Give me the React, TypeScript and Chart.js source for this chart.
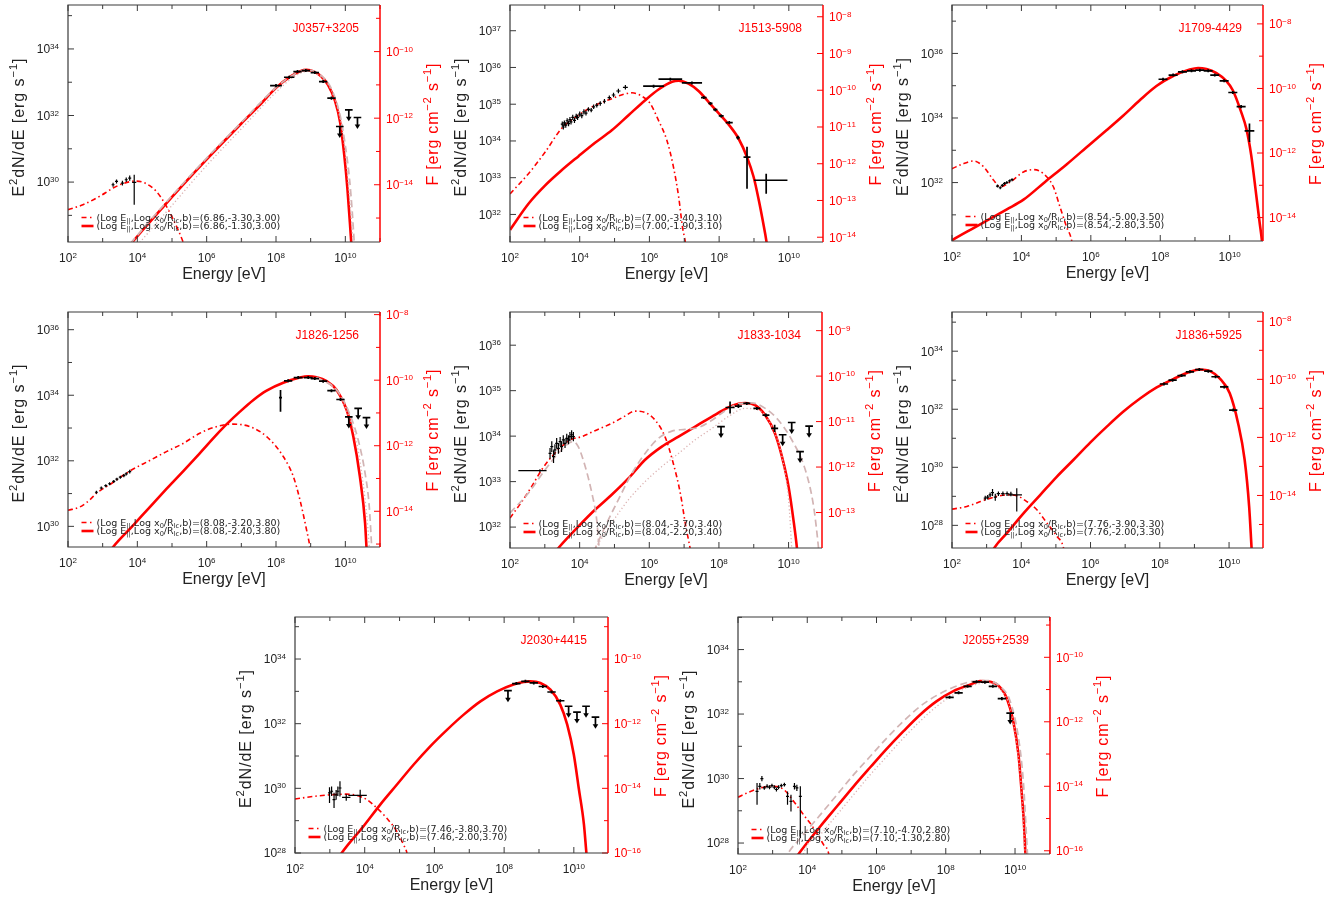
import React, { useEffect, useRef } from 'react';
import { Chart, registerables } from 'chart.js';

Chart.register(...registerables);

type Pt = [number, number];
type Dp = number[];

// ---------------- DATA (log10 E [eV], log10 E^2dN/dE [erg/s]) ----------------
// J0357+3205
const P1_IC: Pt[] = [[3.68,27.97],[3.86,28.20],[4.30,28.73],[4.70,29.20],[5.27,29.86],[6.00,30.68],[7.00,31.76],[7.50,32.28],[8.00,32.83],[8.40,33.16],[8.70,33.33],[8.88,33.37],[9.10,33.32],[9.30,33.18],[9.50,32.92],[9.70,32.45],[9.85,31.80],[9.97,30.80],[10.06,29.80],[10.13,28.80],[10.19,27.90]];
const P1_SYN: Pt[] = [[2.00,29.17],[2.43,29.32],[2.91,29.57],[3.30,29.82],[3.60,29.96],[3.95,30.03],[4.20,29.98],[4.55,29.72],[4.84,29.27],[5.13,28.67],[5.32,28.20],[5.40,27.95]];
const P1_GDASH: Pt[] = [[3.80,28.15],[4.30,28.76],[5.27,29.90],[6.00,30.72],[7.00,31.79],[8.00,32.84],[8.50,33.22],[8.90,33.37],[9.30,33.20],[9.60,32.80],[9.85,32.00],[10.00,31.10],[10.12,30.10],[10.20,29.10],[10.25,28.30],[10.28,27.90]];
const P1_GDOT: Pt[] = [[4.00,28.10],[5.00,29.30],[6.00,30.50],[7.00,31.60],[8.00,32.70],[8.50,33.15],[8.90,33.33],[9.30,33.15],[9.60,32.75],[9.85,31.90],[10.00,30.90],[10.10,29.80],[10.18,28.80],[10.24,27.90]];
const P1_XRAY: Dp[] = [[3.30,29.92,0.03,0.06],[3.40,30.02,0.03,0.06],[3.57,29.97,0.03,0.07],[3.68,30.07,0.03,0.07],[3.78,30.12,0.03,0.08],[3.91,29.99,0.06,0.06,0.67,0.23]];
const P1_GAMMA: Dp[] = [[8.00,32.90,0.17,0.05],[8.38,33.15,0.15,0.04],[8.62,33.32,0.12,0.03],[8.86,33.35,0.12,0.03],[9.12,33.29,0.12,0.03],[9.36,33.02,0.12,0.04],[9.60,32.52,0.12,0.05]];
const P1_UL: Dp[] = [[9.84,31.67,0.11],[10.10,32.17,0.11],[10.35,31.94,0.11]];

// J1513-5908
const P2_IC: Pt[] = [[2.00,31.58],[2.53,32.29],[3.01,32.79],[3.48,33.20],[3.96,33.58],[4.44,33.95],[4.92,34.29],[5.40,34.70],[5.88,35.11],[6.26,35.40],[6.65,35.61],[6.84,35.64],[7.12,35.56],[7.41,35.36],[7.70,35.06],[7.99,34.75],[8.27,34.45],[8.56,34.06],[8.80,33.56],[8.99,33.02],[9.14,32.38],[9.25,31.84],[9.36,31.25],[9.40,30.93]];
const P2_SYN: Pt[] = [[2.00,32.56],[2.53,33.11],[3.01,33.70],[3.48,34.34],[3.96,34.70],[4.44,34.97],[4.92,35.15],[5.26,35.27],[5.50,35.31],[5.78,35.22],[6.02,35.02],[6.26,34.56],[6.50,34.02],[6.69,33.29],[6.84,32.47],[6.95,31.65],[7.03,31.25],[7.08,30.84]];
const P2_XRAY: Dp[] = [[3.50,34.46,0.02,0.07],[3.53,34.38,0.02,0.07],[3.56,34.49,0.02,0.07],[3.60,34.43,0.02,0.07],[3.64,34.55,0.02,0.07],[3.68,34.47,0.02,0.07],[3.72,34.58,0.02,0.07],[3.75,34.52,0.02,0.07],[3.80,34.64,0.02,0.07],[3.85,34.56,0.02,0.07],[3.90,34.67,0.02,0.07],[3.94,34.64,0.02,0.07],[4.00,34.73,0.02,0.07],[4.06,34.69,0.02,0.07],[4.12,34.79,0.02,0.07],[4.18,34.76,0.02,0.07],[4.25,34.86,0.03,0.06],[4.33,34.84,0.03,0.06],[4.40,34.93,0.03,0.06],[4.49,34.97,0.03,0.06],[4.59,35.02,0.04,0.06],[4.71,35.08,0.04,0.06],[4.85,35.18,0.05,0.06],[4.97,35.25,0.05,0.06],[5.11,35.36,0.06,0.06],[5.31,35.46,0.07,0.06]];
const P2_GAMMA: Dp[] = [[6.12,35.49,0.30,0.04],[6.60,35.68,0.34,0.04],[7.22,35.58,0.29,0.04],[7.56,35.18,0.08,0.03],[7.75,35.02,0.06,0.03],[7.89,34.85,0.06,0.03],[8.06,34.68,0.07,0.03],[8.29,34.50,0.10,0.03],[8.54,34.09,0.05,0.05],[8.80,33.56,0.10,0.10,0.86,0.28],[9.35,32.93,0.35,0.61,0.37,0.18]];
const P2_UL: Dp[] = [];

// J1709-4429
const P3_IC: Pt[] = [[1.86,30.11],[2.00,30.21],[2.62,30.59],[3.10,30.88],[3.58,31.17],[4.06,31.47],[4.68,32.02],[5.30,32.56],[5.98,33.19],[6.45,33.62],[6.93,34.07],[7.41,34.55],[7.89,34.99],[8.37,35.30],[8.85,35.50],[9.09,35.55],[9.33,35.52],[9.61,35.40],[9.90,35.15],[10.09,34.86],[10.33,34.19],[10.48,33.67],[10.62,32.85],[10.76,31.66],[10.86,30.78],[10.93,30.19],[10.96,29.80]];
const P3_SYN: Pt[] = [[2.00,32.43],[2.34,32.59],[2.62,32.67],[2.91,32.49],[3.20,32.07],[3.39,31.87],[3.68,32.02],[4.06,32.33],[4.35,32.40],[4.63,32.28],[4.92,31.87],[5.11,31.25],[5.30,30.63],[5.45,30.19],[5.50,29.80]];
const P3_XRAY: Dp[] = [[3.31,31.89,0.03,0.03],[3.39,31.84,0.03,0.03],[3.45,31.91,0.03,0.03],[3.51,31.97,0.03,0.03],[3.58,32.00,0.03,0.03],[3.66,32.05,0.04,0.03],[3.73,32.09,0.04,0.03]];
const P3_GAMMA: Dp[] = [[8.08,35.20,0.13,0.02],[8.37,35.33,0.13,0.02],[8.64,35.43,0.13,0.02],[8.90,35.46,0.13,0.02],[9.14,35.48,0.13,0.02],[9.38,35.46,0.13,0.02],[9.57,35.33,0.13,0.03],[9.84,35.15,0.13,0.03],[10.09,34.79,0.13,0.04],[10.33,34.35,0.13,0.05],[10.57,33.60,0.14,0.14,0.34,0.23]];
const P3_UL: Dp[] = [];

// J1826-1256
const P4_IC: Pt[] = [[3.11,29.09],[3.30,29.37],[3.88,30.03],[4.36,30.59],[4.84,31.14],[5.32,31.68],[5.80,32.23],[6.28,32.79],[6.57,33.11],[6.96,33.50],[7.34,33.85],[7.73,34.14],[8.21,34.38],[8.69,34.54],[8.93,34.58],[9.17,34.55],[9.46,34.43],[9.75,34.16],[10.04,33.55],[10.23,32.74],[10.42,31.52],[10.57,30.10],[10.61,29.37],[10.64,28.99]];
const P4_SYN: Pt[] = [[2.00,30.49],[2.34,30.59],[2.63,30.81],[2.82,31.01],[3.20,31.27],[3.80,31.70],[4.36,32.01],[4.84,32.28],[5.32,32.53],[5.80,32.84],[6.28,33.04],[6.76,33.12],[7.25,33.04],[7.73,32.74],[8.21,32.13],[8.50,31.52],[8.69,30.81],[8.88,29.90],[8.98,29.37],[9.03,28.99]];
const P4_GDASH: Pt[] = [[9.17,34.55],[9.75,34.16],[10.08,33.55],[10.37,32.64],[10.57,31.62],[10.69,30.61],[10.76,29.37],[10.78,28.99]];
const P4_GDOT: Pt[] = [[9.17,34.55],[9.75,34.14],[10.04,33.53],[10.31,32.64],[10.50,31.42],[10.61,30.41],[10.69,29.37],[10.71,28.99]];
const P4_XRAY: Dp[] = [[2.82,31.04,0.03,0.03],[2.96,31.17,0.03,0.04],[3.09,31.24,0.03,0.04],[3.20,31.30,0.03,0.04],[3.32,31.37,0.03,0.04],[3.41,31.44,0.03,0.04],[3.51,31.50,0.03,0.04],[3.61,31.55,0.03,0.05],[3.68,31.60,0.03,0.05],[3.78,31.67,0.03,0.06]];
const P4_GAMMA: Dp[] = [[8.13,33.93,0.04,0.04,0.43,0.23],[8.35,34.44,0.12,0.03],[8.64,34.54,0.13,0.02],[8.93,34.54,0.13,0.02],[9.12,34.51,0.12,0.02],[9.36,34.43,0.12,0.03],[9.60,34.14,0.12,0.03],[9.86,33.87,0.12,0.04]];
const P4_UL: Dp[] = [[10.10,33.34,0.11],[10.37,33.60,0.11],[10.61,33.32,0.11]];

// J1833-1034
const P5_IC: Pt[] = [[3.20,31.36],[3.39,31.54],[3.96,32.01],[4.44,32.38],[4.92,32.71],[5.40,33.07],[5.88,33.48],[6.36,33.77],[6.84,33.99],[7.32,34.21],[7.80,34.43],[8.27,34.63],[8.56,34.71],[8.75,34.73],[9.04,34.68],[9.33,34.46],[9.61,34.06],[9.81,33.55],[10.00,32.89],[10.14,32.16],[10.24,31.54],[10.27,31.28]];
const P5_SYN: Pt[] = [[2.00,32.20],[2.34,32.56],[2.62,32.89],[2.91,33.26],[3.20,33.55],[3.48,33.77],[3.77,33.93],[4.06,33.99],[4.44,34.12],[4.92,34.28],[5.30,34.44],[5.59,34.55],[5.88,34.52],[6.17,34.35],[6.45,33.99],[6.69,33.40],[6.89,32.75],[7.05,32.01],[7.17,31.54],[7.22,31.28]];
const P5_GDASH_A: Pt[] = [[2.00,32.31],[2.53,32.75],[3.01,33.26],[3.48,33.70],[3.82,33.88],[3.96,33.77],[4.16,33.33],[4.35,32.75],[4.49,32.16],[4.56,31.54],[4.59,31.28]];
const P5_GDASH_B: Pt[] = [[4.40,31.45],[4.73,32.01],[5.11,32.60],[5.50,33.18],[5.88,33.62],[6.26,33.95],[6.65,34.11],[7.03,34.15],[7.41,34.19],[7.80,34.35],[8.18,34.56],[8.56,34.71],[8.94,34.73],[9.33,34.61],[9.71,34.35],[10.09,33.92],[10.48,33.26],[10.72,32.45],[10.86,31.54],[10.89,31.28]];
const P5_GDOT: Pt[] = [[4.40,31.48],[4.92,32.09],[5.40,32.60],[5.88,33.00],[6.36,33.33],[6.84,33.62],[7.32,33.92],[7.80,34.17],[8.27,34.43],[8.75,34.61],[9.14,34.57],[9.52,34.21],[9.81,33.55],[10.00,32.60],[10.09,31.54],[10.11,31.28]];
const P5_XRAY: Dp[] = [[2.86,33.24,0.62,0.19,0.03,0.03],[3.15,33.62,0.02,0.12],[3.20,33.77,0.02,0.12],[3.25,33.55,0.02,0.14],[3.29,33.70,0.02,0.12],[3.34,33.84,0.02,0.12],[3.39,33.73,0.02,0.12],[3.44,33.88,0.02,0.10],[3.48,33.77,0.02,0.12],[3.53,33.92,0.02,0.10],[3.58,33.84,0.02,0.10],[3.63,33.95,0.02,0.10],[3.68,33.92,0.02,0.10],[3.72,33.99,0.02,0.10],[3.77,34.03,0.02,0.10],[3.82,33.99,0.02,0.10]];
const P5_GAMMA: Dp[] = [[8.32,34.63,0.13,0.13],[8.56,34.66,0.10,0.04],[8.80,34.72,0.10,0.03],[9.09,34.61,0.10,0.03],[9.35,34.46,0.10,0.04],[9.60,34.17,0.10,0.08]];
const P5_UL: Dp[] = [[8.06,34.21,0.11],[9.83,34.03,0.11],[10.09,34.30,0.11],[10.33,33.66,0.11],[10.59,34.22,0.11]];

// J1836+5925
const P6_IC: Pt[] = [[3.10,26.93],[3.22,27.22],[3.59,27.74],[4.07,28.42],[4.55,29.05],[5.03,29.68],[5.51,30.26],[5.99,30.85],[6.47,31.40],[6.95,31.92],[7.43,32.37],[7.91,32.75],[8.39,33.04],[8.87,33.29],[9.16,33.37],[9.44,33.32],[9.73,33.06],[10.02,32.55],[10.26,31.52],[10.45,30.26],[10.58,28.65],[10.65,27.22],[10.67,26.82]];
const P6_SYN: Pt[] = [[2.00,28.56],[2.43,28.65],[2.82,28.82],[3.20,28.97],[3.59,29.05],[3.87,29.02],[4.16,28.82],[4.45,28.54],[4.74,28.08],[5.03,27.62],[5.22,27.22],[5.27,26.82]];
const P6_XRAY: Dp[] = [[2.96,28.94,0.03,0.08],[3.03,28.97,0.03,0.08],[3.10,29.05,0.03,0.08],[3.17,29.13,0.03,0.12],[3.25,28.97,0.03,0.12],[3.34,29.09,0.05,0.08],[3.47,29.09,0.05,0.08],[3.59,29.09,0.05,0.08],[3.70,29.08,0.05,0.08],[3.87,29.05,0.24,0.15,0.57,0.23]];
const P6_GAMMA: Dp[] = [[8.12,32.87,0.12,0.03],[8.37,33.00,0.12,0.02],[8.63,33.16,0.12,0.02],[8.87,33.29,0.12,0.02],[9.14,33.37,0.12,0.02],[9.40,33.31,0.12,0.02],[9.61,33.12,0.12,0.03],[9.86,32.77,0.12,0.03],[10.12,31.97,0.12,0.05]];
const P6_UL: Dp[] = [];

// J2030+4415
const P7_IC: Pt[] = [[3.20,27.74],[3.34,28.00],[3.96,28.82],[4.44,29.49],[4.92,30.11],[5.40,30.73],[5.88,31.30],[6.36,31.81],[6.84,32.28],[7.32,32.69],[7.80,33.00],[8.27,33.21],[8.56,33.29],[8.75,33.31],[9.04,33.26],[9.33,33.05],[9.61,32.59],[9.81,31.97],[10.00,31.04],[10.14,30.01],[10.29,28.88],[10.36,28.00],[10.39,27.64]];
const P7_SYN: Pt[] = [[2.00,29.67],[2.53,29.75],[3.01,29.80],[3.48,29.82],[3.77,29.78],[4.06,29.65],[4.35,29.39],[4.63,29.08],[4.92,28.67],[5.11,28.26],[5.21,28.00],[5.26,27.64]];
const P7_XRAY: Dp[] = [[2.99,29.86,0.03,0.03,0.31,0.17],[3.05,29.91,0.03,0.15],[3.12,29.65,0.03,0.03,0.26,0.21],[3.18,29.80,0.03,0.15],[3.23,29.91,0.03,0.15],[3.29,30.01,0.03,0.03,0.26,0.21],[3.47,29.72,0.12,0.10],[3.87,29.78,0.34,0.19,0.23,0.18]];
const P7_GAMMA: Dp[] = [[8.35,33.24,0.12,0.03],[8.61,33.31,0.12,0.02],[8.85,33.26,0.12,0.02],[9.11,33.15,0.12,0.02],[9.36,32.98,0.12,0.03],[9.61,32.71,0.12,0.04]];
const P7_UL: Dp[] = [[8.11,33.02,0.11],[9.85,32.54,0.11],[10.09,32.36,0.11],[10.35,32.54,0.11],[10.62,32.20,0.11]];

// J2055+2539
const P8_IC: Pt[] = [[3.61,27.43],[3.75,27.66],[4.38,28.52],[4.86,29.14],[5.34,29.76],[5.82,30.35],[6.30,30.93],[6.78,31.47],[7.26,31.98],[7.74,32.40],[8.22,32.71],[8.70,32.91],[8.99,33.02],[9.28,33.00],[9.57,32.83],[9.76,32.50],[9.95,31.78],[10.10,30.74],[10.19,29.60],[10.26,28.57],[10.30,27.66],[10.32,27.33]];
const P8_SYN: Pt[] = [[2.00,29.42],[2.36,29.60],[2.74,29.73],[3.03,29.76],[3.32,29.66],[3.61,29.29],[3.89,28.88],[4.18,28.47],[4.47,27.95],[4.62,27.66],[4.66,27.33]];
const P8_GDASH: Pt[] = [[3.32,27.43],[3.43,27.66],[3.89,28.26],[4.38,28.88],[4.86,29.50],[5.34,30.12],[5.82,30.69],[6.30,31.26],[6.78,31.78],[7.26,32.24],[7.74,32.58],[8.22,32.83],[8.70,33.00],[9.18,33.04],[9.57,32.86],[9.86,32.40],[10.10,31.26],[10.24,29.91],[10.36,27.66],[10.38,27.33]];
const P8_GDOT: Pt[] = [[3.85,27.43],[3.89,27.66],[4.38,28.26],[4.86,28.88],[5.34,29.50],[5.82,30.12],[6.30,30.69],[6.78,31.26],[7.26,31.78],[7.74,32.24],[8.22,32.60],[8.70,32.86],[9.18,32.97],[9.57,32.76],[9.86,32.19],[10.05,31.05],[10.19,29.60],[10.29,27.66],[10.31,27.33]];
const P8_XRAY: Dp[] = [[2.55,29.60,0.02,0.02,0.41,0.26],[2.63,29.76,0.02,0.10],[2.69,30.00,0.02,0.08],[2.76,29.71,0.02,0.06],[2.84,29.76,0.02,0.06],[2.91,29.73,0.02,0.06],[2.98,29.78,0.02,0.06],[3.05,29.73,0.02,0.06],[3.11,29.66,0.02,0.06],[3.17,29.73,0.02,0.06],[3.25,29.78,0.02,0.06],[3.34,29.81,0.02,0.06],[3.43,29.45,0.02,0.02,0.26,0.15],[3.53,29.29,0.02,0.02,0.31,0.21],[3.63,29.76,0.02,0.10],[3.70,29.71,0.02,0.10],[3.80,29.45,0.02,0.02,1.29,0.31]];
const P8_GAMMA: Dp[] = [[8.11,32.52,0.12,0.04],[8.37,32.66,0.12,0.03],[8.63,32.86,0.12,0.02],[8.89,33.00,0.12,0.02],[9.13,32.99,0.12,0.02],[9.36,32.86,0.12,0.03],[9.62,32.48,0.12,0.05]];
const P8_UL: Dp[] = [[9.86,32.03,0.11]];

const NAMES = ['J0357+3205', 'J1513-5908', 'J1709-4429', 'J1826-1256', 'J1833-1034', 'J1836+5925', 'J2030+4415', 'J2055+2539'];
const SYN_PARAMS = ['(6.86,-3.30,3.00)', '(7.00,-3.40,3.10)', '(8.54,-5.00,3.50)', '(8.08,-3.20,3.80)', '(8.04,-3.70,3.40)', '(7.76,-3.90,3.30)', '(7.46,-3.80,3.70)', '(7.10,-4.70,2.80)'];
const IC_PARAMS = ['(6.86,-1.30,3.00)', '(7.00,-1.90,3.10)', '(8.54,-2.80,3.50)', '(8.08,-2.40,3.80)', '(8.04,-2.20,3.40)', '(7.76,-2.00,3.30)', '(7.46,-2.00,3.70)', '(7.10,-1.30,2.80)'];
// axis ranges (log10): energy, luminosity, and luminosity-to-flux offset for the right axis
const X_RANGES: Pt[] = [[2, 11], [2, 10.98], [2, 10.96], [2, 11], [2, 10.96], [2, 10.98], [2, 10.98], [2, 11.01]];
const Y_RANGES: Pt[] = [[28.2, 35.32], [31.25, 37.7], [30.19, 37.5], [29.37, 36.54], [31.54, 36.73], [27.22, 35.35], [28.0, 35.3], [27.66, 35.01]];
const FLUX_OFFSETS = [43.92, 45.38, 44.915, 44.46, 45.32, 43.03, 44.0, 43.76];
const LEFT_LABEL_STEP = [2, 1, 2, 2, 1, 2, 2, 2];
const RIGHT_LABEL_STEP = [2, 1, 2, 2, 1, 2, 2, 2];

// ---------------- layout ----------------
const BOXES: [number, number, number, number][] = [
  [68, 5, 380, 242], [510, 5, 823, 242], [952, 5, 1263, 241],
  [68, 312, 380, 547], [510, 312, 822, 548], [952, 312, 1263, 548],
  [295, 617, 608, 853], [738, 617, 1050, 854],
];
const PAD = { left: 72, top: 5, right: 64, bottom: 45 };

interface PanelCfg {
  idx: number;
  ic: Pt[]; syn: Pt[]; gdash: Pt[][]; gdot: Pt[][];
  xray: Dp[]; gamma: Dp[]; ul: Dp[];
}
const PANELS: PanelCfg[] = [
  { idx: 0, ic: P1_IC, syn: P1_SYN, gdash: [P1_GDASH], gdot: [P1_GDOT], xray: P1_XRAY, gamma: P1_GAMMA, ul: P1_UL },
  { idx: 1, ic: P2_IC, syn: P2_SYN, gdash: [], gdot: [], xray: P2_XRAY, gamma: P2_GAMMA, ul: P2_UL },
  { idx: 2, ic: P3_IC, syn: P3_SYN, gdash: [], gdot: [], xray: P3_XRAY, gamma: P3_GAMMA, ul: P3_UL },
  { idx: 3, ic: P4_IC, syn: P4_SYN, gdash: [P4_GDASH], gdot: [P4_GDOT], xray: P4_XRAY, gamma: P4_GAMMA, ul: P4_UL },
  { idx: 4, ic: P5_IC, syn: P5_SYN, gdash: [P5_GDASH_A, P5_GDASH_B], gdot: [P5_GDOT], xray: P5_XRAY, gamma: P5_GAMMA, ul: P5_UL },
  { idx: 5, ic: P6_IC, syn: P6_SYN, gdash: [], gdot: [], xray: P6_XRAY, gamma: P6_GAMMA, ul: P6_UL },
  { idx: 6, ic: P7_IC, syn: P7_SYN, gdash: [], gdot: [], xray: P7_XRAY, gamma: P7_GAMMA, ul: P7_UL },
  { idx: 7, ic: P8_IC, syn: P8_SYN, gdash: [P8_GDASH], gdot: [P8_GDOT], xray: P8_XRAY, gamma: P8_GAMMA, ul: P8_UL },
];

const AX_FONT = '"Liberation Sans", Arial, Helvetica, sans-serif';
const LG_FONT = '"DejaVu Sans", "Liberation Sans", sans-serif';
const RED = '#ff0000';
const GRAY_DASH = '#d2b4b4';
const GRAY_DOT = '#dbb0b0';
const FRAME = '#3a3a3a';
const TEXT = '#222222';

type Part = { t: string; s?: 'sup' | 'sub' };
interface RichOpt {
  size: number; family: string; align: 'left' | 'center' | 'right'; color: string;
  supScale?: number; supRaise?: number; subDrop?: number; target?: number;
}

function drawRich(ctx: CanvasRenderingContext2D, parts: Part[], x: number, y: number, o: RichOpt) {
  const sc = o.supScale ?? 0.7;
  const items: { ch: string; fs: number; dy: number; w: number }[] = [];
  for (const p of parts) {
    const fs = p.s ? o.size * sc : o.size;
    ctx.font = `${fs}px ${o.family}`;
    const dy = p.s === 'sup' ? -o.size * (o.supRaise ?? 0.42) : p.s === 'sub' ? o.size * (o.subDrop ?? 0.25) : 0;
    for (const ch of Array.from(p.t)) items.push({ ch, fs, dy, w: ctx.measureText(ch).width });
  }
  let total = items.reduce((a, b) => a + b.w, 0);
  let sp = 0;
  if (o.target && items.length > 1) { sp = (o.target - total) / (items.length - 1); total = o.target; }
  let cx = o.align === 'left' ? x : o.align === 'right' ? x - total : x - total / 2;
  ctx.fillStyle = o.color;
  ctx.textBaseline = 'alphabetic';
  ctx.textAlign = 'left';
  for (const it of items) {
    ctx.font = `${it.fs}px ${o.family}`;
    ctx.fillText(it.ch, cx, y + it.dy);
    cx += it.w + sp;
  }
}

const pow = (v: number) => Math.pow(10, v);
const expTxt = (k: number) => (k < 0 ? '\u2212' + String(-k) : String(k));

function makePlugin(cfg: PanelCfg) {
  const i = cfg.idx;
  return {
    id: 'sedDecor' + i,
    afterDatasetsDraw(chart: any) {
      const ctx: CanvasRenderingContext2D = chart.ctx;
      const { left, top, right, bottom } = chart.chartArea;
      const xs = chart.scales.x, ys = chart.scales.y;
      ctx.save();
      ctx.beginPath();
      ctx.rect(left, top, right - left, bottom - top);
      ctx.clip();
      ctx.strokeStyle = '#000';
      ctx.fillStyle = '#000';
      ctx.setLineDash([]);
      chart.data.datasets.forEach((ds: any) => {
        if (!ds.errKind) return;
        ctx.lineWidth = ds.errKind === 'xr' ? 1.2 : 1.7;
        ds.data.forEach((d: any) => {
          const p: number[] = d.p;
          const px = xs.getPixelForValue(pow(p[0]));
          const py = ys.getPixelForValue(pow(p[1]));
          if (ds.errKind === 'ul') {
            const x0 = xs.getPixelForValue(pow(p[0] - p[2]));
            const x1 = xs.getPixelForValue(pow(p[0] + p[2]));
            ctx.beginPath();
            ctx.moveTo(x0, py); ctx.lineTo(x1, py);
            ctx.moveTo(px, py); ctx.lineTo(px, py + 8);
            ctx.stroke();
            ctx.beginPath();
            ctx.moveTo(px - 2.8, py + 7); ctx.lineTo(px + 2.8, py + 7); ctx.lineTo(px, py + 11.5);
            ctx.closePath(); ctx.fill();
            return;
          }
          let exLo, exHi, eyLo, eyHi;
          if (p.length >= 6) { exLo = p[2]; exHi = p[3]; eyLo = p[4]; eyHi = p[5]; }
          else { exLo = exHi = p[2]; eyLo = eyHi = p[3]; }
          let x0 = xs.getPixelForValue(pow(p[0] - exLo));
          let x1 = xs.getPixelForValue(pow(p[0] + exHi));
          let y0 = ys.getPixelForValue(pow(p[1] - eyLo));
          let y1 = ys.getPixelForValue(pow(p[1] + eyHi));
          x0 = Math.min(x0, px - 1.5); x1 = Math.max(x1, px + 1.5);
          y0 = Math.max(y0, py + 1.5); y1 = Math.min(y1, py - 1.5);
          ctx.beginPath();
          ctx.moveTo(x0, py); ctx.lineTo(x1, py);
          ctx.moveTo(px, y0); ctx.lineTo(px, y1);
          ctx.stroke();
        });
      });
      ctx.restore();
    },
    afterDraw(chart: any) {
      const ctx: CanvasRenderingContext2D = chart.ctx;
      const { left: L, top: T, right: R, bottom: B } = chart.chartArea;
      const xs = chart.scales.x, ys = chart.scales.y, y2 = chart.scales.y2;
      const xr = X_RANGES[i], yr = Y_RANGES[i], off = FLUX_OFFSETS[i];
      ctx.save();
      ctx.setLineDash([]);
      // ticks
      ctx.lineWidth = 1;
      ctx.strokeStyle = FRAME;
      ctx.beginPath();
      for (let k = Math.ceil(xr[0] - 1e-6); k <= Math.floor(xr[1] + 1e-6); k++) {
        const px = xs.getPixelForValue(pow(k));
        const len = k % 2 === 0 ? 6 : 4;
        ctx.moveTo(px, B); ctx.lineTo(px, B - len);
        ctx.moveTo(px, T); ctx.lineTo(px, T + len);
      }
      for (let k = Math.ceil(yr[0] - 1e-6); k <= Math.floor(yr[1] + 1e-6); k++) {
        const py = ys.getPixelForValue(pow(k));
        const len = k % LEFT_LABEL_STEP[i] === 0 ? 6 : 4;
        ctx.moveTo(L, py); ctx.lineTo(L + len, py);
      }
      ctx.stroke();
      ctx.strokeStyle = RED;
      ctx.beginPath();
      const r0 = yr[0] - off, r1 = yr[1] - off;
      for (let k = Math.ceil(r0 - 1e-6); k <= Math.floor(r1 + 1e-6); k++) {
        const py = y2.getPixelForValue(pow(k));
        const len = k % RIGHT_LABEL_STEP[i] === 0 ? 6 : 4;
        ctx.moveTo(R, py); ctx.lineTo(R - len, py);
      }
      ctx.stroke();
      // frame
      ctx.lineWidth = 1.2;
      ctx.strokeStyle = FRAME;
      ctx.beginPath();
      ctx.moveTo(R, T); ctx.lineTo(L, T); ctx.lineTo(L, B); ctx.lineTo(R, B);
      ctx.stroke();
      ctx.strokeStyle = RED;
      ctx.lineWidth = 1.5;
      ctx.beginPath();
      ctx.moveTo(R, T); ctx.lineTo(R, B);
      ctx.stroke();
      // tick labels
      const tl = { size: 12, family: AX_FONT, supScale: 0.67, supRaise: 0.36 };
      for (let k = Math.ceil(xr[0] - 1e-6); k <= Math.floor(xr[1] + 1e-6); k++) {
        if (k % 2 !== 0) continue;
        const px = xs.getPixelForValue(pow(k));
        drawRich(ctx, [{ t: '10' }, { t: expTxt(k), s: 'sup' }], px, B + 20, { ...tl, align: 'center', color: TEXT });
      }
      for (let k = Math.ceil(yr[0] - 1e-6); k <= Math.floor(yr[1] + 1e-6); k++) {
        if (k % LEFT_LABEL_STEP[i] !== 0) continue;
        const py = ys.getPixelForValue(pow(k));
        drawRich(ctx, [{ t: '10' }, { t: expTxt(k), s: 'sup' }], L - 9, py + 4.4, { ...tl, align: 'right', color: TEXT });
      }
      for (let k = Math.ceil(r0 - 1e-6); k <= Math.floor(r1 + 1e-6); k++) {
        if (k % RIGHT_LABEL_STEP[i] !== 0) continue;
        const py = y2.getPixelForValue(pow(k));
        drawRich(ctx, [{ t: '10' }, { t: expTxt(k), s: 'sup' }], R + 6, py + 4.4, { ...tl, align: 'left', color: RED });
      }
      // axis titles
      drawRich(ctx, [{ t: 'Energy [eV]' }], (L + R) / 2, B + 37, { size: 16, family: AX_FONT, align: 'center', color: TEXT });
      ctx.save();
      ctx.translate(L - 44, (T + B) / 2 + 4);
      ctx.rotate(-Math.PI / 2);
      drawRich(ctx, [{ t: 'E' }, { t: '2', s: 'sup' }, { t: 'dN/dE [erg s' }, { t: '\u22121', s: 'sup' }, { t: ']' }], 0, 0,
        { size: 16, family: AX_FONT, align: 'center', color: TEXT, target: 138 });
      ctx.restore();
      ctx.save();
      ctx.translate(R + 58, (T + B) / 2 + 1);
      ctx.rotate(-Math.PI / 2);
      drawRich(ctx, [{ t: 'F [erg cm' }, { t: '\u22122', s: 'sup' }, { t: ' s' }, { t: '\u22121', s: 'sup' }, { t: ']' }], 0, 0,
        { size: 16, family: AX_FONT, align: 'center', color: RED, target: 122 });
      ctx.restore();
      // pulsar name
      drawRich(ctx, [{ t: NAMES[i] }], R - 21, T + 26.5, { size: 12, family: AX_FONT, align: 'right', color: RED });
      // legend
      const rows: [number, string, boolean][] = [[B - 24.5, SYN_PARAMS[i], true], [B - 16, IC_PARAMS[i], false]];
      for (const [ry, params, dashed] of rows) {
        ctx.strokeStyle = RED;
        ctx.lineWidth = dashed ? 1.6 : 2.6;
        ctx.setLineDash(dashed ? [5, 3.5, 1.5, 3.5] : []);
        ctx.beginPath();
        ctx.moveTo(L + 13.5, ry); ctx.lineTo(L + 25.5, ry);
        ctx.stroke();
        ctx.setLineDash([]);
        drawRich(ctx, [{ t: '(Log E' }, { t: '||', s: 'sub' }, { t: ',Log x' }, { t: '0', s: 'sub' }, { t: '/R' }, { t: 'lc', s: 'sub' }, { t: ',b)=' + params }],
          L + 28.5, ry + 3.4, { size: 9.5, family: LG_FONT, align: 'left', color: TEXT, subDrop: 0.22 });
      }
      ctx.restore();
    },
  };
}

function buildConfig(cfg: PanelCfg): any {
  const i = cfg.idx;
  const xy = (arr: Pt[]) => arr.map(([e, l]) => ({ x: pow(e), y: pow(l) }));
  const pts = (arr: Dp[]) => arr.map((p) => ({ x: pow(p[0]), y: pow(p[1]), p }));
  const line = (arr: Pt[], color: string, width: number, dash: number[]) => ({
    data: xy(arr), showLine: true, borderColor: color, borderWidth: width, borderDash: dash,
    pointRadius: 0, cubicInterpolationMode: 'monotone', clip: 0, xAxisID: 'x', yAxisID: 'y', fill: false,
  });
  const datasets: any[] = [];
  cfg.gdot.forEach((c) => datasets.push(line(c, GRAY_DOT, 1.3, [1.2, 2.4])));
  cfg.gdash.forEach((c) => datasets.push(line(c, GRAY_DASH, 1.7, [7, 4])));
  datasets.push(line(cfg.syn, RED, 1.6, [5, 3, 1.5, 3]));
  datasets.push(line(cfg.ic, RED, 2.6, []));
  datasets.push({ data: pts(cfg.xray), pointRadius: 0, showLine: false, errKind: 'xr', xAxisID: 'x', yAxisID: 'y' });
  datasets.push({ data: pts(cfg.gamma), pointRadius: 0, showLine: false, errKind: 'pt', xAxisID: 'x', yAxisID: 'y' });
  datasets.push({ data: pts(cfg.ul), pointRadius: 0, showLine: false, errKind: 'ul', xAxisID: 'x', yAxisID: 'y' });
  const xr = X_RANGES[i], yr = Y_RANGES[i], off = FLUX_OFFSETS[i];
  return {
    type: 'scatter',
    data: { datasets },
    options: {
      animation: false,
      responsive: false,
      devicePixelRatio: 1,
      events: [],
      layout: { padding: PAD },
      plugins: { legend: { display: false }, tooltip: { enabled: false }, title: { display: false } },
      scales: {
        x: { type: 'logarithmic', min: pow(xr[0]), max: pow(xr[1]), display: false },
        y: { type: 'logarithmic', min: pow(yr[0]), max: pow(yr[1]), display: false },
        y2: { type: 'logarithmic', position: 'right', min: pow(yr[0] - off), max: pow(yr[1] - off), display: false },
      },
    },
    plugins: [makePlugin(cfg)],
  };
}

function Panel({ cfg }: { cfg: PanelCfg }) {
  const ref = useRef<HTMLCanvasElement>(null);
  const [L, T, R, B] = BOXES[cfg.idx];
  const W = R - L + PAD.left + PAD.right;
  const H = B - T + PAD.top + PAD.bottom;
  useEffect(() => {
    if (!ref.current) return;
    const chart = new Chart(ref.current, buildConfig(cfg));
    return () => chart.destroy();
  }, [cfg]);
  return (
    <canvas
      ref={ref}
      width={W}
      height={H}
      style={{ position: 'absolute', left: L - PAD.left, top: T - PAD.top, width: W, height: H }}
    />
  );
}

export default function App() {
  return (
    <div style={{ position: 'absolute', left: 0, top: 0, width: 1336, height: 900, background: '#fff', overflow: 'hidden' }}>
      {PANELS.map((p) => <Panel key={p.idx} cfg={p} />)}
    </div>
  );
}
